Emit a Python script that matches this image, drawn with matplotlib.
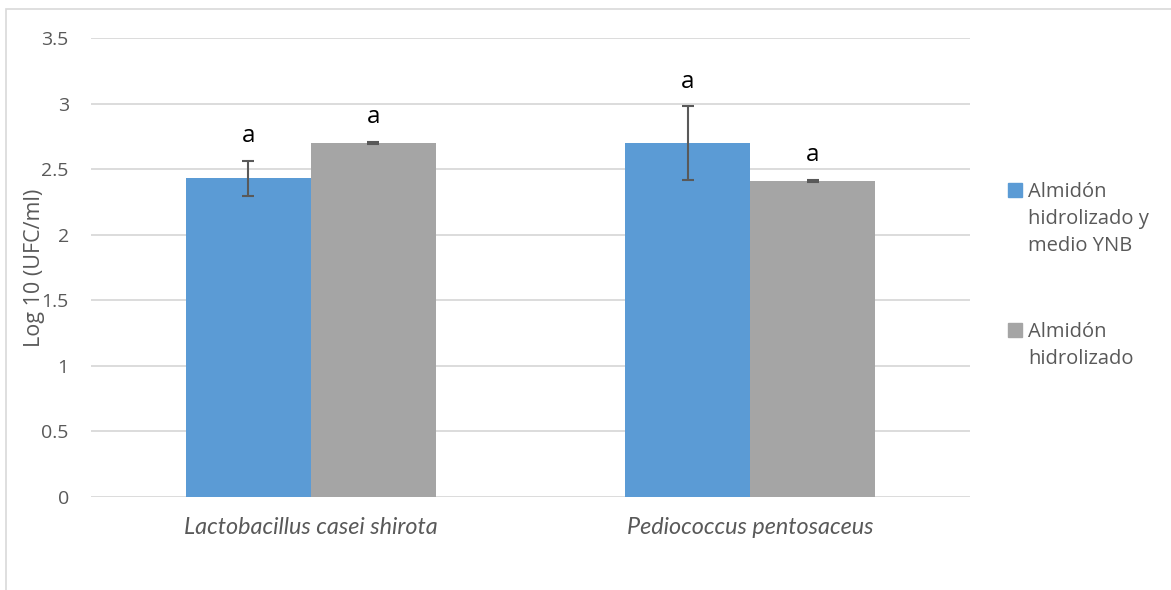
import numpy as np
import matplotlib
matplotlib.use("Agg")
import matplotlib.pyplot as plt
from matplotlib.patches import Rectangle

# Data
categories = ["Lactobacillus casei shirota", "Pediococcus pentosaceus"]
series_names = [["Almidón", "hidrolizado y", "medio YNB"], ["Almidón", "hidrolizado"]]
ynb_means = [2.43, 2.70]
ynb_err = [0.137, 0.28]
starch_means = [2.70, 2.41]
starch_err = [0.005, 0.005]
letters_ynb = ["a", "a"]
letters_starch = ["a", "a"]
yticks = [0, 0.5, 1, 1.5, 2, 2.5, 3, 3.5]
ytick_labels = ["0", "0.5", "1", "1.5", "2", "2.5", "3", "3.5"]

blue = "#5B9BD5"
grey = "#A5A5A5"
text_grey = "#595959"

W, H = 1171, 590
fig = plt.figure(figsize=(W / 100, H / 100), dpi=100)
ax = fig.add_axes([91 / W, 1 - 496.6 / H, (970 - 91) / W, (496.6 - 38.4) / H])

x = np.arange(len(categories))
bw = 0.284
ekw = dict(ecolor=text_grey, elinewidth=1.5, capsize=4, capthick=1.5)
ax.bar(x - bw / 2, ynb_means, bw, color=blue, yerr=ynb_err, error_kw=ekw, zorder=3)
ax.bar(x + bw / 2, starch_means, bw, color=grey, yerr=starch_err, error_kw=ekw, zorder=3)

# significance letters above the error bars
for xi, m, e, t in zip(x - bw / 2, ynb_means, ynb_err, letters_ynb):
    ax.annotate(t, (xi, m + e), xytext=(0, 13), textcoords="offset points",
                ha="center", va="baseline", fontsize=17.5, family="Open Sans", color="black")
for xi, m, e, t in zip(x + bw / 2, starch_means, starch_err, letters_starch):
    ax.annotate(t, (xi, m + e), xytext=(0, 14), textcoords="offset points",
                ha="center", va="baseline", fontsize=17.5, family="Open Sans", color="black")

ax.set_xlim(-0.5, 1.5)
ax.set_ylim(0, 3.5)
ax.set_yticks(yticks)
ax.set_yticklabels(ytick_labels, family="Open Sans", fontsize=14, color=text_grey)
ax.set_xticks(x)
ax.set_xticklabels(categories, family="Lato", style="italic", fontsize=16.8, color=text_grey)
ax.tick_params(axis="both", length=0)
ax.tick_params(axis="y", pad=16)
ax.tick_params(axis="x", pad=15)
ax.grid(axis="y", color="#D9D9D9", lw=1.3, zorder=0)
for s in ax.spines.values():
    s.set_visible(False)
ax.set_ylabel("Log 10 (UFC/ml)", family="Open Sans", fontsize=15.5, color=text_grey)
ax.yaxis.set_label_coords(-46 / (970 - 91), 0.5)

# legend drawn by hand so the swatch sits on the first line
legend_y = [190, 330]
line_step = 27
for lines, col, yc in zip(series_names, [blue, grey], legend_y):
    fig.add_artist(Rectangle((1008 / W, 1 - (yc + 7) / H), 14 / W, 14 / H,
                             transform=fig.transFigure, color=col))
    for i, line in enumerate(lines):
        fig.text(1028 / W, 1 - (yc + 7 + i * line_step) / H, line, ha="left", va="baseline",
                 family="Open Sans", fontsize=14.5, color=text_grey)

# chart area border
fig.add_artist(Rectangle((6 / W, -0.05), 1.2, 1 - 9 / H + 0.05, transform=fig.transFigure,
                         fill=False, edgecolor="#D9D9D9", lw=1.2))

fig.savefig("out.png", dpi=100)
